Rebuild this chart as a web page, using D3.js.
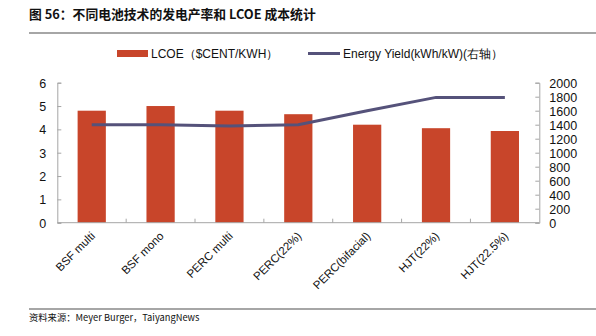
<!DOCTYPE html>
<html><head><meta charset="utf-8">
<script src="https://cdn.jsdelivr.net/npm/d3@7"></script>
<style>body{margin:0;background:#fff;}svg{display:block;}</style>
</head><body>
<svg id="c" width="596" height="336"></svg>
<script>
const categories = ["BSF multi","BSF mono","PERC multi","PERC(22%)","PERC(bifacial)","HJT(22%)","HJT(22.5%)"];
const lcoe = [4.8, 5.0, 4.8, 4.65, 4.2, 4.05, 3.93];
const energyYield = [1400, 1400, 1380, 1400, 1600, 1790, 1790];
const leftTicks = [0,1,2,3,4,5,6];
const rightTicks = [0,200,400,600,800,1000,1200,1400,1600,1800,2000];

const svg = d3.select("#c");
const font = "Liberation Sans, Arial, sans-serif";
const cjk = "Noto Sans CJK SC, sans-serif";
const L = 57.3, R = 539.3, T = 82.7, B = 222.7;
const axisCol = "#a6a6a6";

// title
svg.append("text").attr("x",29).attr("y",19).attr("font-family",cjk).attr("font-weight","bold")
  .attr("font-size",12.8).attr("fill","#111").text("图 56：不同电池技术的发电产率和 LCOE 成本统计");
svg.append("line").attr("x1",29).attr("x2",596).attr("y1",33).attr("y2",33).attr("stroke","#888").attr("stroke-width",1.5);

const x = d3.scaleBand().domain(categories).range([L,R]);
const yL = d3.scaleLinear().domain([0,6]).range([B,T]);
const yR = d3.scaleLinear().domain([0,2000]).range([B,T]);

// bars
svg.append("g").selectAll("rect").data(categories).join("rect")
  .attr("x",d=>x(d)+x.bandwidth()*0.295).attr("width",x.bandwidth()*0.41)
  .attr("y",(d,i)=>yL(lcoe[i])).attr("height",(d,i)=>B-yL(lcoe[i]))
  .attr("fill","#C8452A");

// line
const line = d3.line().x((d,i)=>x(categories[i])+x.bandwidth()/2).y(d=>yR(d));
svg.append("path").datum(energyYield).attr("d",line).attr("fill","none")
  .attr("stroke","#55527A").attr("stroke-width",3);

// axes
const gL = svg.append("g").attr("transform",`translate(${L},0)`)
  .call(d3.axisRight(yL).tickValues(leftTicks).tickSize(4).tickFormat(d3.format("d")));
gL.selectAll("text").attr("x",-11).attr("text-anchor","end");
const gR = svg.append("g").attr("transform",`translate(${R},0)`)
  .call(d3.axisLeft(yR).tickValues(rightTicks).tickSize(4).tickFormat(d3.format("d")));
gR.selectAll("text").attr("x",10).attr("text-anchor","start");
[gL,gR].forEach(g=>{
  g.select(".domain").attr("stroke",axisCol);
  g.selectAll(".tick line").attr("stroke",axisCol);
  g.selectAll("text").attr("font-family",font).attr("font-size",12.5).attr("fill","#111").attr("dy","0.35em");
});
// x axis
const gX = svg.append("g").attr("transform",`translate(0,${B})`);
gX.append("line").attr("x1",L).attr("x2",R).attr("stroke",axisCol);
gX.selectAll(".tk").data(categories.slice(1)).join("line").attr("class","tk")
  .attr("x1",d=>x(d)).attr("x2",d=>x(d)).attr("y1",0).attr("y2",-4).attr("stroke",axisCol);
gX.selectAll(".lb").data(categories).join("text").attr("class","lb")
  .attr("transform",d=>`translate(${x(d)+x.bandwidth()/2+4},${14}) rotate(-45)`)
  .attr("text-anchor","end").attr("font-family",font).attr("font-size",11.5).attr("fill","#111")
  .text(d=>d);

// legend
svg.append("rect").attr("x",117).attr("y",50).attr("width",31).attr("height",7).attr("fill","#C8452A");
svg.append("text").attr("x",151).attr("y",58).attr("font-family",font).attr("font-size",12).attr("fill","#111").text("LCOE（$CENT/KWH）");
svg.append("line").attr("x1",308).attr("x2",340).attr("y1",53.5).attr("y2",53.5).attr("stroke","#55527A").attr("stroke-width",3);
svg.append("text").attr("x",343).attr("y",58).attr("font-family",font).attr("font-size",12).attr("fill","#111").text("Energy Yield(kWh/kW)(右轴）");

// footer
svg.append("line").attr("x1",29).attr("x2",596).attr("y1",309).attr("y2",309).attr("stroke","#888").attr("stroke-width",1.5);
svg.append("text").attr("x",29).attr("y",321).attr("font-family",cjk).attr("font-size",9.3).attr("fill","#111").text("资料来源：Meyer Burger，TaiyangNews");
</script>
</body></html>
